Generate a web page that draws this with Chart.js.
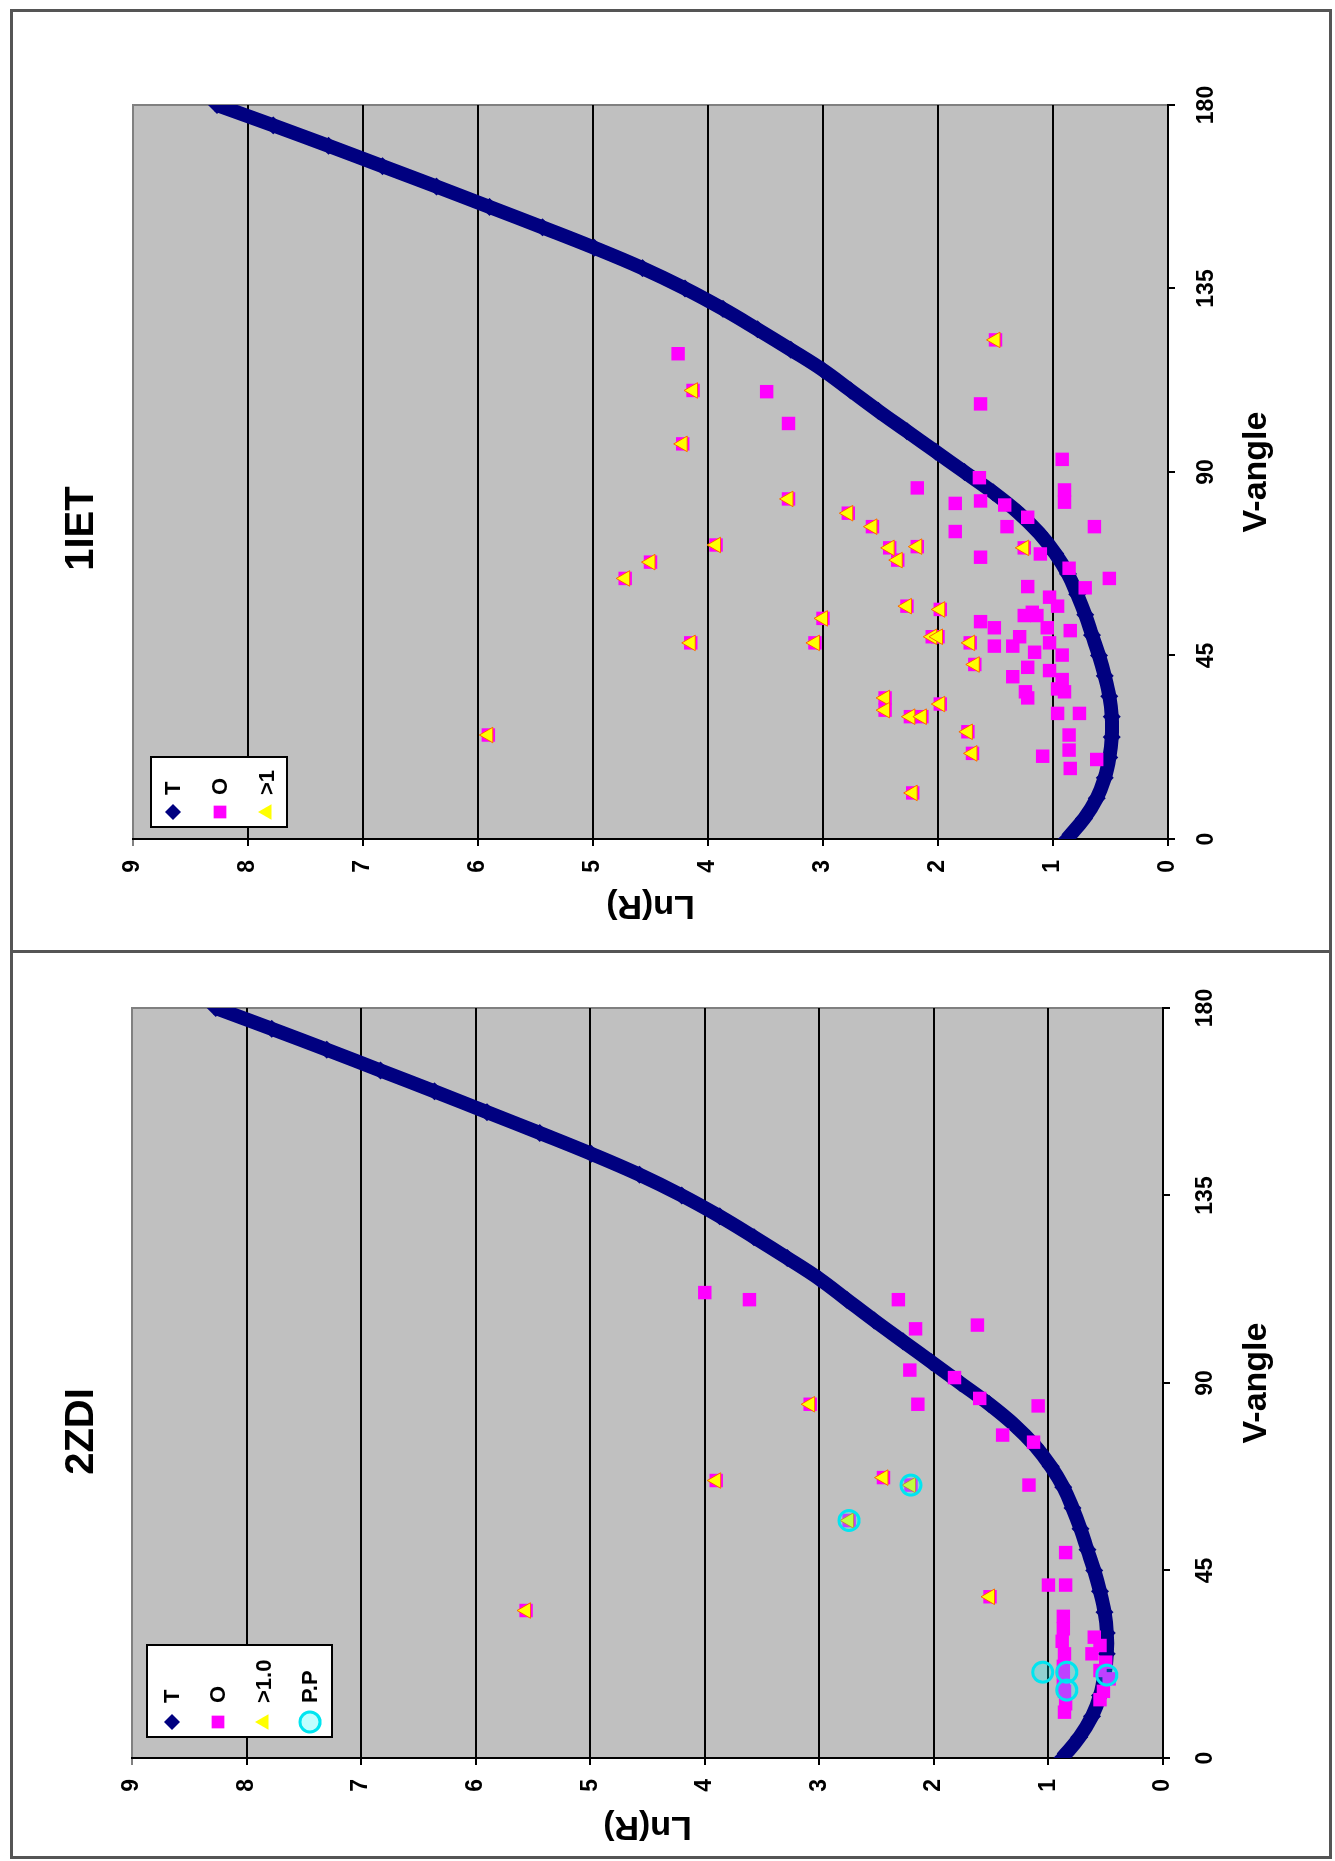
<!DOCTYPE html>
<html>
<head>
<meta charset="utf-8">
<title>Ln(R) vs V-angle</title>
<script src="https://cdn.jsdelivr.net/npm/chart.js@4.4.1/dist/chart.umd.min.js"></script>
<style>
    html, body { margin: 0; padding: 0; background: #fff; }
    body { position: relative; width: 1335px; height: 1861px; overflow: hidden; }
    #frame { position: absolute; left: 10px; top: 9px; width: 1316px; height: 1844px; border: 3px solid #555; }
    #divider { position: absolute; left: 10px; top: 950px; width: 1322px; height: 3px; background: #555; }
    .panel { position: absolute; left: 12px; width: 1317px; }
    .panel canvas { position: absolute; left: 0; top: 0; transform-origin: 0 0; }
</style>
</head>
<body>
<div id="frame"></div>
<div id="divider"></div>
<div class="panel" style="top:12px;height:940px;">
    <canvas id="chartIET" width="940" height="1317" style="transform: translateY(940px) rotate(-90deg);"></canvas>
</div>
<div class="panel" style="top:952px;height:903px;">
    <canvas id="chartZDI" width="903" height="1317" style="transform: translateY(903px) rotate(-90deg);"></canvas>
</div>
<script>
// theoretical curve T (V-angle -> Ln(R)), same for both structures
const vAngleT = [0, 5, 10, 15, 20, 25, 30, 35, 40, 45, 50, 55, 60, 65, 70, 75, 80, 85, 90,
    95, 100, 105, 110, 115, 120, 125, 130, 135, 140, 145, 150, 155, 160, 165, 170, 175, 180];
const lnT = [0.88, 0.73, 0.62, 0.55, 0.51, 0.49, 0.49, 0.51, 0.55, 0.60, 0.66, 0.72, 0.79, 0.87, 0.98, 1.12, 1.30, 1.52, 1.77,
    2.02, 2.27, 2.52, 2.76, 3.0, 3.28, 3.57, 3.87, 4.2, 4.57, 4.99, 5.44, 5.9, 6.36, 6.83, 7.3, 7.78, 8.27];

const vTicks = [0, 45, 90, 135, 180];
const lnTicks = [0, 1, 2, 3, 4, 5, 6, 7, 8, 9];

// 1IET: [V-angle, Ln(R)]
const ietO = [[119.0, 4.26], [109.7, 3.49], [101.9, 3.30], [106.7, 1.63], [93.1, 0.92], [88.6, 1.64], [86.1, 2.18],
    [82.3, 1.85], [82.9, 1.63], [85.6, 0.90], [82.6, 0.90], [81.9, 1.42], [78.9, 1.22], [76.6, 1.40], [75.4, 1.85],
    [76.6, 0.64], [69.1, 1.63], [69.9, 1.11], [66.4, 0.86], [63.9, 0.51], [61.9, 1.22], [61.6, 0.72], [59.3, 1.03],
    [57.1, 0.96], [54.8, 1.25], [54.8, 1.14], [53.3, 1.63], [51.8, 1.51], [51.1, 0.85], [49.6, 1.29], [51.8, 1.05],
    [48.1, 1.03], [47.3, 1.51], [47.3, 1.35], [45.8, 1.16], [45.1, 0.92], [42.1, 1.22], [39.8, 1.35], [41.3, 1.03],
    [39.1, 0.92], [34.6, 1.22], [36.1, 0.90], [30.8, 0.96], [30.8, 0.77], [25.5, 0.86], [21.8, 0.86], [20.3, 1.09],
    [17.3, 0.85], [19.5, 0.62], [36.8, 0.96], [36.1, 1.24], [55.6, 1.18]];
const ietOver1 = [[110.0, 4.13], [96.9, 4.22], [83.4, 3.30], [72.1, 3.93], [48.1, 4.15], [79.9, 2.78], [76.6, 2.57],
    [71.4, 2.42], [68.4, 2.35], [71.7, 2.18], [57.1, 2.27], [56.3, 1.98], [54.1, 3.00], [48.1, 3.07], [49.6, 2.05],
    [49.6, 2.00], [48.1, 1.72], [42.8, 1.68], [34.6, 2.46], [31.6, 2.46], [30.0, 2.24], [30.0, 2.14], [33.1, 1.98],
    [26.3, 1.74], [21.0, 1.70], [11.3, 2.22], [122.4, 1.50], [71.4, 1.25], [25.5, 5.91], [63.9, 4.72], [67.9, 4.50]];

// 2ZDI: [V-angle, Ln(R)]
const zdiO = [[111.7, 4.0], [110.0, 3.61], [110.0, 2.31], [103.0, 2.16], [103.9, 1.62], [93.1, 2.21], [84.9, 2.14],
    [91.3, 1.82], [86.3, 1.60], [84.5, 1.09], [77.5, 1.40], [75.8, 1.13], [65.5, 1.17], [49.3, 0.85], [41.5, 1.0],
    [41.5, 0.85], [34, 0.87], [31, 0.87], [28, 0.88], [25, 0.86], [22, 0.87], [19, 0.87], [16, 0.86], [13, 0.85],
    [11, 0.86], [29, 0.6], [27, 0.55], [25, 0.62], [23, 0.5], [21, 0.55], [19, 0.47], [16, 0.52], [14, 0.55]];
const zdiOver1 = [[84.9, 3.08], [66.6, 3.90], [67.3, 2.44], [38.7, 1.51], [57.0, 2.74], [65.5, 2.20], [35.4, 5.56]];
const zdiPP = [[57.0, 2.74], [65.5, 2.20], [20.6, 1.05], [20.6, 0.84], [16.3, 0.84], [19.9, 0.49]];

const FONT = 'Arial, "Liberation Sans", Helvetica, sans-serif';
Chart.defaults.font.family = FONT;
Chart.defaults.color = '#000';

function toPoints(pairs) {
    return pairs.map(p => ({ x: p[0], y: p[1] }));
}

// grey plot background, like the spreadsheet default
const plotBackground = {
    id: 'plotBackground',
    beforeDraw(chart) {
        const { ctx, chartArea: a } = chart;
        ctx.save();
        ctx.fillStyle = '#c0c0c0';
        ctx.fillRect(a.left, a.top, a.right - a.left, a.bottom - a.top);
        ctx.strokeStyle = '#808080';
        ctx.lineWidth = 2;
        ctx.strokeRect(a.left, a.top, a.right - a.left, a.bottom - a.top);
        ctx.restore();
    }
};

// boxed legend sitting inside the plot area (top-left corner)
const boxLegend = {
    id: 'boxLegend',
    afterDraw(chart, args, o) {
        const ctx = chart.ctx;
        ctx.save();
        ctx.fillStyle = '#fff';
        ctx.fillRect(o.left, o.top, o.width, o.height);
        ctx.strokeStyle = '#000';
        ctx.lineWidth = 2;
        ctx.strokeRect(o.left, o.top, o.width, o.height);
        ctx.font = 'bold 22px ' + FONT;
        ctx.textBaseline = 'middle';
        ctx.textAlign = 'left';
        chart.data.datasets.forEach((ds, i) => {
            const y = o.top + o.firstRow + i * o.rowGap;
            const x = o.left + o.markerX;
            ctx.fillStyle = ds.legendFill;
            ctx.strokeStyle = ds.legendStroke || ds.legendFill;
            ctx.lineWidth = ds.legendBorder || 0;
            Chart.helpers.drawPoint(ctx, {
                pointStyle: ds.pointStyle,
                radius: ds.legendRadius,
                rotation: 0,
                borderWidth: ds.legendBorder || 0
            }, x, y);
            ctx.fillStyle = '#000';
            ctx.fillText(ds.label, o.left + o.textX, y + 1);
        });
        ctx.restore();
    }
};

function makeDatasets(oOnly, over1, pp, over1Label) {
    const sets = [
        {
            label: 'T',
            data: vAngleT.map((v, i) => ({ x: v, y: lnT[i] })),
            showLine: true,
            borderColor: '#000080',
            borderWidth: 14,
            tension: 0.4,
            pointStyle: 'rectRot',
            pointRadius: 9,
            pointBackgroundColor: '#000080',
            pointBorderWidth: 0,
            legendFill: '#000080',
            legendRadius: 8,
            order: 4
        },
        {
            label: 'O',
            data: toPoints(oOnly.concat(over1)),
            pointStyle: 'rect',
            pointRadius: 9.5,
            pointBackgroundColor: '#ff00ff',
            pointBorderWidth: 0,
            legendFill: '#ff00ff',
            legendRadius: 9,
            order: 3
        },
        {
            label: over1Label,
            data: toPoints(over1),
            pointStyle: 'triangle',
            pointRadius: 9,
            pointBackgroundColor: '#ffff00',
            pointBorderColor: '#ff6600',
            pointBorderWidth: 1,
            legendFill: '#ffff00',
            legendRadius: 9,
            order: 2
        }
    ];
    if (pp) {
        sets.push({
            label: 'P.P',
            data: toPoints(pp),
            pointStyle: 'circle',
            pointRadius: 10,
            pointBackgroundColor: 'rgba(0,255,255,0.25)',
            pointBorderColor: '#00e5f0',
            pointBorderWidth: 3,
            legendFill: 'rgba(150,255,255,0.6)',
            legendStroke: '#00e5f0',
            legendBorder: 3,
            legendRadius: 10,
            order: 1
        });
    }
    return sets;
}

function makeChart(canvasId, title, datasets, geom) {
    const canvas = document.getElementById(canvasId);
    if (!canvas) {
        console.error("Canvas " + canvasId + " not found.");
        return;
    }
    new Chart(canvas.getContext('2d'), {
        type: 'scatter',
        data: { datasets: datasets },
        options: {
            responsive: false,
            animation: false,
            layout: { padding: { left: 0, right: geom.right, top: 0, bottom: 0 } },
            scales: {
                x: {
                    type: 'linear',
                    min: vTicks[0],
                    max: vTicks[vTicks.length - 1],
                    afterBuildTicks: s => { s.ticks = vTicks.map(v => ({ value: v })); },
                    ticks: { font: { size: 23, weight: 'bold' }, color: '#000', padding: geom.xTickPad, maxRotation: 0, autoSkip: false },
                    grid: { drawOnChartArea: false, drawTicks: true, tickLength: 7, color: '#000', lineWidth: 2 },
                    border: { color: '#000', width: 2 },
                    title: {
                        display: true, text: 'V-angle', color: '#000',
                        font: { size: 34, weight: 'bold' },
                        padding: { top: 0, bottom: 52 }
                    },
                    afterFit: s => { s.height = geom.xHeight; }
                },
                y: {
                    type: 'linear',
                    min: lnTicks[0],
                    max: lnTicks[lnTicks.length - 1],
                    afterBuildTicks: s => { s.ticks = lnTicks.map(v => ({ value: v })); },
                    ticks: { font: { size: 23, weight: 'bold' }, color: '#000', padding: 14 },
                    grid: {
                        color: c => (c.tick && c.tick.value === 9 ? '#808080' : '#000'),
                        lineWidth: 2,
                        tickLength: 7
                    },
                    border: { color: '#000', width: 2 },
                    title: {
                        display: true, text: 'Ln(R)', color: '#000',
                        font: { size: 34, weight: 'bold' },
                        padding: { top: geom.yTitlePad, bottom: 0 }
                    },
                    afterFit: s => { s.width = geom.yWidth; }
                }
            },
            plugins: {
                legend: { display: false },
                tooltip: { enabled: false },
                title: {
                    display: true, text: title, color: '#000',
                    font: { size: 40, weight: 'bold' },
                    padding: { top: 46, bottom: geom.titleBottom }
                },
                boxLegend: geom.legend
            }
        },
        plugins: [plotBackground, boxLegend]
    });
}

makeChart('chartIET', '1IET', makeDatasets(ietO, ietOver1, null, '>1'), {
    right: 93, yWidth: 113, xHeight: 161, xTickPad: 18, yTitlePad: 26, titleBottom: 27,
    legend: { left: 125, top: 139, width: 70, height: 136, markerX: 15, textX: 32, firstRow: 22, rowGap: 47 }
});

makeChart('chartZDI', '2ZDI', makeDatasets(zdiO, zdiOver1, zdiPP, '>1.0'), {
    right: 56, yWidth: 97, xHeight: 166, xTickPad: 22, yTitlePad: 8, titleBottom: 26,
    legend: { left: 118, top: 135, width: 92, height: 185, markerX: 15, textX: 34, firstRow: 25, rowGap: 46 }
});
</script>
</body>
</html>
